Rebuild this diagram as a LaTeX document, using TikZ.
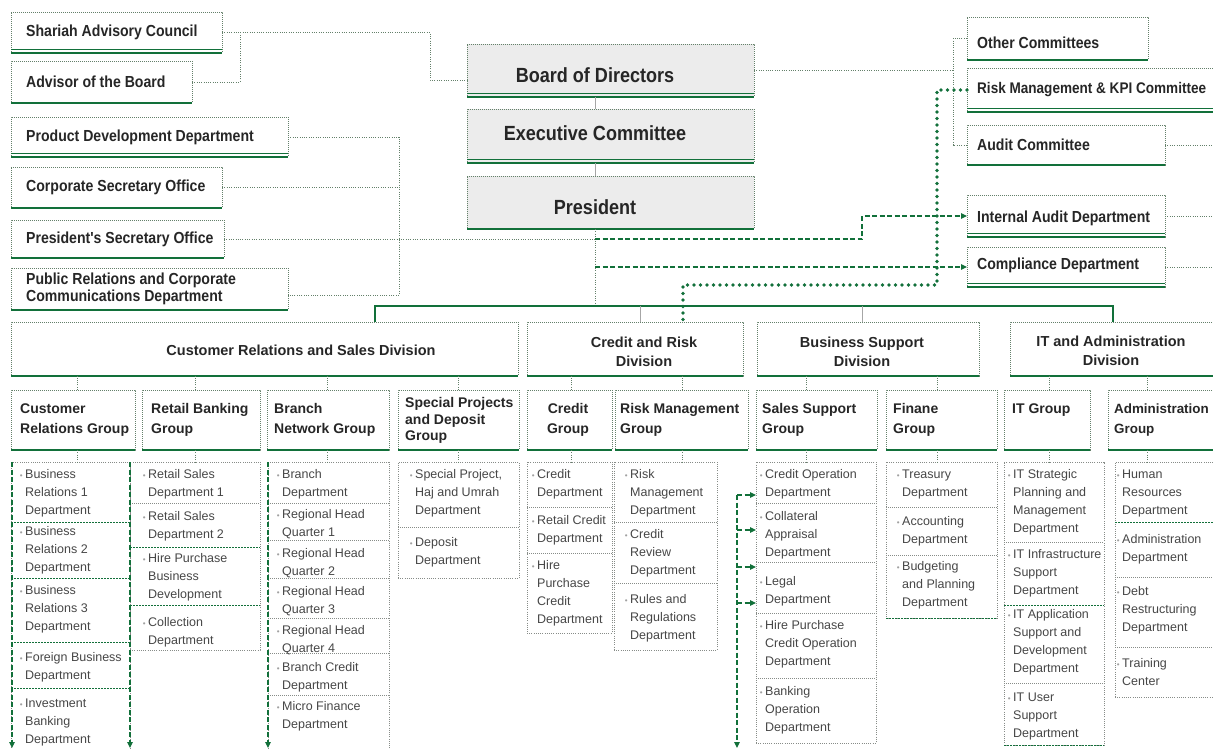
\documentclass[tikz,border=0pt]{standalone}
\usepackage{fontspec}
\setmainfont{Liberation Sans}
\newfontfamily\hfont{Liberation Sans}[FakeStretch=0.88]
\usetikzlibrary{arrows.meta,calc}
\definecolor{g}{RGB}{18,112,58}
\definecolor{bord}{RGB}{100,128,106}
\definecolor{boxfill}{RGB}{236,236,236}
\definecolor{htext}{RGB}{38,38,38}
\definecolor{dtext}{RGB}{70,70,70}
\definecolor{bgray}{RGB}{160,160,160}
\definecolor{sepc}{RGB}{135,140,136}
\newcommand{\bu}{\llap{\textcolor{bgray}{\fontsize{8}{8}\selectfont\textbullet}\hspace{2.5pt}}}
\begin{document}
\begin{tikzpicture}[x=1pt,y=-1pt,
  box/.style={draw=bord, dash pattern=on 0.8pt off 1.2pt, line width=0.7pt, rectangle, inner sep=0pt, outer sep=0pt, anchor=north west},
  cbox/.style={box, fill=boxfill},
  colbox/.style={draw=sepc, dash pattern=on 1pt off 1.2pt, line width=0.6pt, rectangle, inner sep=0pt, outer sep=0pt, anchor=north west},
  ht/.style={anchor=west, inner sep=0pt, text=htext, align=left, font=\hfont\bfseries\fontsize{16}{17}\selectfont},
  ct/.style={inner sep=0pt, text=htext, font=\hfont\bfseries\fontsize{20.5}{22}\selectfont},
  dvt/.style={inner sep=0pt, text=htext, align=center, font=\bfseries\fontsize{14.5}{19}\selectfont},
  gt/.style={anchor=west, inner sep=0pt, text=htext, align=left, font=\bfseries\fontsize{14}{20}\selectfont},
  dt/.style={anchor=west, inner sep=0pt, text=dtext, align=left, font=\fontsize{12.5}{18}\selectfont},
  conn/.style={draw=bord, line width=0.7pt, dash pattern=on 1pt off 1.3pt},
  gthick/.style={draw=g, line width=2.2pt},
  gthin/.style={draw=g, line width=0.8pt},
  gline/.style={draw=g, line width=1.5pt},
  grayline/.style={draw=gray!70, line width=0.9pt},
  gdash/.style={draw=g, line width=1.1pt, dash pattern=on 5pt off 2.5pt},
  arrtip/.style={-{Triangle[length=6pt,width=5.5pt]}},
  tdot/.style={draw=g, line width=3.6pt, dash pattern=on 0pt off 6.5pt, line cap=round},
  sepg/.style={draw=g, line width=0.9pt, dash pattern=on 2pt off 1pt},
  sepl/.style={draw=sepc, line width=0.6pt, dash pattern=on 1pt off 1pt}
]
\useasboundingbox (0,0) rectangle (1213,749);

% ---------- top-left boxes
\node[box, minimum width=211, minimum height=41] (sac) at (11,12) {};
\node[box, minimum width=181, minimum height=42] (adv) at (11,61) {};
\node[box, minimum width=277, minimum height=40] (pdd) at (11,117) {};
\node[box, minimum width=211, minimum height=41] (cso) at (11,167) {};
\node[box, minimum width=213, minimum height=38] (pso) at (11,220) {};
\node[box, minimum width=277, minimum height=42] (prc) at (11,268) {};
\node[ht] (t-sac) at ([xshift=15pt]sac.west) {Shariah Advisory Council};
\node[ht] (t-adv) at ([xshift=15pt]adv.west) {Advisor of the Board};
\node[ht] (t-pdd) at ([xshift=15pt]pdd.west) {Product Development Department};
\node[ht] (t-cso) at ([xshift=15pt]cso.west) {Corporate Secretary Office};
\node[ht] (t-pso) at ([xshift=15pt]pso.west) {President's Secretary Office};
\node[ht] (t-prc) at ([xshift=15pt]prc.west) {Public Relations and Corporate\\Communications Department};

% ---------- centre boxes
\node[cbox, minimum width=287, minimum height=53] (bod) at (467,44) {};
\node[cbox, minimum width=287, minimum height=54] (exc) at (467,109) {};
\node[cbox, minimum width=287, minimum height=53] (pres) at (467,176) {};
\node[ct] (t-bod) at ([xshift=-15.5pt,yshift=-5pt]bod.center) {Board of Directors};
\node[ct] (t-exc) at ([xshift=-15.5pt,yshift=3pt]exc.center) {Executive Committee};
\node[ct] (t-pres) at ([xshift=-15.5pt,yshift=-4.5pt]pres.center) {President};

% ---------- right boxes
\node[box, minimum width=181, minimum height=43] (oc) at (967,17) {};
\node[box, minimum width=250, minimum height=44] (rmk) at (967,68) {};
\node[box, minimum width=198, minimum height=40] (ac) at (967,125) {};
\node[box, minimum width=198, minimum height=42] (iad) at (967,195) {};
\node[box, minimum width=198, minimum height=40] (cd) at (967,247) {};
\node[ht] (t-oc) at ([xshift=10pt,yshift=-4pt]oc.west) {Other Committees};
\node[ht, font=\hfont\bfseries\fontsize{15.4}{17}\selectfont] (t-rmk) at ([xshift=10pt]rmk.west) {Risk Management \& KPI Committee};
\node[ht] (t-ac) at ([xshift=10pt]ac.west) {Audit Committee};
\node[ht] (t-iad) at ([xshift=10pt,yshift=-2pt]iad.west) {Internal Audit Department};
\node[ht] (t-cd) at ([xshift=10pt,yshift=2pt]cd.west) {Compliance Department};

% ---------- divisions
\node[box, minimum width=507, minimum height=54] (dcrs) at (11,322) {};
\node[box, minimum width=216, minimum height=54] (dcr) at (527,322) {};
\node[box, minimum width=222, minimum height=54] (dbs) at (757,322) {};
\node[box, minimum width=210, minimum height=54] (dit) at (1010,322) {};
\node[dvt] (t-dcrs) at (301,350) {Customer Relations and Sales Division};
\node[dvt] (t-dcr) at (644,352) {Credit and Risk\\Division};
\node[dvt] (t-dbs) at (862,352) {Business Support\\Division};
\node[dvt] (t-dit) at (1111,351) {IT and Administration\\Division};

% ---------- groups
\node[box, minimum width=124, minimum height=60] (gcr) at (11,390) {};
\node[box, minimum width=118, minimum height=60] (grb) at (142,390) {};
\node[box, minimum width=122, minimum height=60] (gbn) at (267,390) {};
\node[box, minimum width=121, minimum height=60] (gsp) at (398,390) {};
\node[box, minimum width=85, minimum height=60] (gcg) at (527,390) {};
\node[box, minimum width=133, minimum height=60] (grm) at (615,390) {};
\node[box, minimum width=121, minimum height=60] (gss) at (756,390) {};
\node[box, minimum width=111, minimum height=60] (gfg) at (886,390) {};
\node[box, minimum width=86, minimum height=60] (git) at (1004,390) {};
\node[box, minimum width=110, minimum height=60] (gad) at (1108,390) {};
\node[gt] (t-gcr) at (20,420) {Customer\\Relations Group};
\node[gt] (t-grb) at (151,420) {Retail Banking\\Group};
\node[gt] (t-gbn) at (274,420) {Branch\\Network Group};
\node[gt, font=\bfseries\fontsize{14}{16.5}\selectfont] (t-gsp) at (405,420.5) {Special Projects\\and Deposit\\Group};
\node[gt, anchor=center, align=center] (t-gcg) at (568,420) {Credit\\Group};
\node[gt] (t-grm) at (620,420) {Risk Management\\Group};
\node[gt] (t-gss) at (762,420) {Sales Support\\Group};
\node[gt] (t-gfg) at (893,420) {Finane\\Group};
\node[gt] (t-git) at (1012,410) {IT Group};
\node[gt, font=\bfseries\fontsize{13.4}{20}\selectfont] (t-gad) at (1114,420) {Administration\\Group};

% ---------- department columns
\node[colbox, minimum width=119, minimum height=293] (c1) at (11,462) {};
\node[colbox, minimum width=130, minimum height=188] (c2) at (130,462) {};
\node[colbox, minimum width=121, minimum height=293] (c3) at (268,462) {};
\node[colbox, minimum width=121, minimum height=116] (c4) at (398,462) {};
\node[colbox, minimum width=85, minimum height=171] (c5) at (527,462) {};
\node[colbox, minimum width=103, minimum height=188] (c6) at (614,462) {};
\node[colbox, minimum width=120, minimum height=281] (c7) at (756,462) {};
\node[colbox, minimum width=111, minimum height=156] (c8) at (886,462) {};
\node[colbox, minimum width=100, minimum height=283] (c9) at (1004,462) {};
\node[colbox, minimum width=100, minimum height=235] (c10) at (1115,462) {};

% separators
\foreach \y in {522,578,642,688} \draw[sepg] (11,\y) -- (130,\y);
\draw[sepl] (130,503) -- (260,503);
\foreach \y in {547,605} \draw[sepg] (130,\y) -- (260,\y);
\foreach \y in {503,540,578,618,653,695} \draw[sepl] (268,\y) -- (389,\y);
\draw[sepl] (398,527) -- (519,527);
\foreach \y in {507,553} \draw[sepl] (527,\y) -- (612,\y);
\foreach \y in {522,583} \draw[sepl] (614,\y) -- (717,\y);
\foreach \y in {503,562,613,678} \draw[sepl] (756,\y) -- (876,\y);
\foreach \y in {507,555} \draw[sepl] (886,\y) -- (997,\y);
\draw[sepg] (886,618) -- (997,618);
\foreach \y in {542,683} \draw[sepl] (1004,\y) -- (1104,\y);
\foreach \y in {605,745} \draw[sepg] (1004,\y) -- (1104,\y);
\draw[sepg] (1115,522) -- (1215,522);
\foreach \y in {577,647} \draw[sepl] (1115,\y) -- (1215,\y);

% department texts
\node[dt] (d1a) at (25,493.5) {\bu Business\\Relations 1\\Department};
\node[dt] (d1b) at (25,550) {\bu Business\\Relations 2\\Department};
\node[dt] (d1c) at (25,609) {\bu Business\\Relations 3\\Department};
\node[dt] (d1d) at (25,667.5) {\bu Foreign Business\\Department};
\node[dt] (d1e) at (25,722) {\bu Investment\\Banking\\Department};

\node[dt] (d2a) at (148,484) {\bu Retail Sales\\Department 1};
\node[dt] (d2b) at (148,526.5) {\bu Retail Sales\\Department 2};
\node[dt] (d2c) at (148,577) {\bu Hire Purchase\\Business\\Development};
\node[dt] (d2d) at (148,632) {\bu Collection\\Department};

\node[dt] (d3a) at (282,484.5) {\bu Branch\\Department};
\node[dt] (d3b) at (282,524) {\bu Regional Head\\Quarter 1};
\node[dt] (d3c) at (282,563) {\bu Regional Head\\Quarter 2};
\node[dt] (d3d) at (282,601.5) {\bu Regional Head\\Quarter 3};
\node[dt] (d3e) at (282,640) {\bu Regional Head\\Quarter 4};
\node[dt] (d3f) at (282,677.5) {\bu Branch Credit\\Department};
\node[dt] (d3g) at (282,716.5) {\bu Micro Finance\\Department};

\node[dt] (d4a) at (415,493.5) {\bu Special Project,\\Haj and Umrah\\Department};
\node[dt] (d4b) at (415,552) {\bu Deposit\\Department};

\node[dt] (d5a) at (537,484.5) {\bu Credit\\Department};
\node[dt] (d5b) at (537,530.5) {\bu Retail Credit\\Department};
\node[dt] (d5c) at (537,593) {\bu Hire\\Purchase\\Credit\\Department};

\node[dt] (d6a) at (630,493.5) {\bu Risk\\Management\\Department};
\node[dt] (d6b) at (630,553) {\bu Credit\\Review\\Department};
\node[dt] (d6c) at (630,618) {\bu Rules and\\Regulations\\Department};

\node[dt] (d7a) at (765,484.5) {\bu Credit Operation\\Department};
\node[dt] (d7b) at (765,535) {\bu Collateral\\Appraisal\\Department};
\node[dt] (d7c) at (765,591) {\bu Legal\\Department};
\node[dt] (d7d) at (765,644) {\bu Hire Purchase\\Credit Operation\\Department};
\node[dt] (d7e) at (765,710) {\bu Banking\\Operation\\Department};

\node[dt] (d8a) at (902,484) {\bu Treasury\\Department};
\node[dt] (d8b) at (902,531) {\bu Accounting\\Department};
\node[dt] (d8c) at (902,585.5) {\bu Budgeting\\and Planning\\Department};

\node[dt] (d9a) at (1013,502.5) {\bu IT Strategic\\Planning and\\Management\\Department};
\node[dt] (d9b) at (1013,573.5) {\bu IT Infrastructure\\Support\\Department};
\node[dt] (d9c) at (1013,642.5) {\bu IT Application\\Support and\\Development\\Department};
\node[dt] (d9d) at (1013,716.5) {\bu IT User\\Support\\Department};

\node[dt] (d10a) at (1122,493.5) {\bu Human\\Resources\\Department};
\node[dt] (d10b) at (1122,549) {\bu Administration\\Department};
\node[dt] (d10c) at (1122,610) {\bu Debt\\Restructuring\\Department};
\node[dt] (d10d) at (1122,672.5) {\bu Training\\Center};

% ---------- bottom lines of boxes
\foreach \n in {sac,pdd,bod,exc,rmk,iad,cd}
  \draw[gthin] ([yshift=3.5pt]\n.south west) -- ([yshift=3.5pt]\n.south east);
\foreach \n in {sac,adv,pdd,cso,pso,prc,bod,exc,pres,oc,rmk,ac,iad,cd,dcrs,dcr,dbs,dit,gcr,grb,gbn,gsp,gcg,grm,gss,gfg,git,gad}
  \draw[gthick] (\n.south west) -- (\n.south east);

% ---------- connectors, left side
\coordinate (jadv) at ([xshift=18pt]sac.east);
\draw[conn] (sac.east) -- ++(208,0) |- ([yshift=-9.5pt]bod.west);
\draw[conn] (adv.east) -| (jadv);
\coordinate (vt) at ([xshift=111pt]pdd.east);
\coordinate (prcE) at ([yshift=-6pt]prc.east);
\draw[conn] (pdd.east) -- (vt) -- (vt |- prcE) -- (prcE);
\draw[conn] (cso.east) -- (cso.east -| vt);
\coordinate (pv) at ([xshift=-15.5pt]pres.south);
\draw[conn] (pso.east) -- (pso.east -| pv);

% centre column
\draw[grayline] ([xshift=-15.5pt]bod.south) -- ([xshift=-15.5pt]exc.north);
\draw[grayline] ([xshift=-15.5pt]exc.south) -- ([xshift=-15.5pt]pres.north);

% right side
\coordinate (jr) at ([xshift=-14pt]oc.west);
\draw[conn] (bod.east) -- (bod.east -| jr);
\draw[conn] (oc.west) -- (jr) |- (ac.west);
\coordinate (edgeR) at (1213,0);
\foreach \n in {ac,iad,cd} \draw[conn] (\n.east) -- (\n.east -| edgeR);

% division bus
\coordinate (dL) at (375,306);
\coordinate (dR) at (1113,306);
\draw[conn] (pv) -- (pv |- dL);
\draw[gline] (dcrs.north -| dL) -- (dL) -- (dR) -- (dR |- dit.north);
\draw[grayline] ([xshift=5pt]dcr.north) -- ([xshift=5pt]dcr.north |- dL);
\draw[grayline] ([xshift=-6pt]dbs.north) -- ([xshift=-6pt]dbs.north |- dL);

% green dashed arrows from President
\coordinate (pj) at (pv |- pso.east);
\draw[gdash, arrtip] (pj) -- ++(267,0) |- (iad.west);
\draw[gdash, arrtip] (pv |- cd.west) -- (cd.west);

% heavy dotted line from Risk Management & KPI Committee
\coordinate (tdc) at (937,285);
\coordinate (tdd) at ([xshift=48pt]dcr.north);
\draw[tdot] (rmk.west) -| (tdc) -| (tdd);

% stubs division -> group -> departments
\foreach \gr/\dv/\cl/\s in {gcr/dcrs/c1/4, grb/dcrs/c2/-6, gbn/dcrs/c3/-1, gsp/dcrs/c4/0, gcg/dcr/c5/2, grm/dcr/c6/1, gss/dbs/c7/-10, gfg/dbs/c8/-4, git/dit/c9/2, gad/dit/c10/-16} {
  \draw[conn] ([xshift=\s pt]\gr.north) -- ([xshift=\s pt]\gr.north |- \dv.south);
  \draw[conn] ([xshift=\s pt]\gr.south) -- ([xshift=\s pt]\gr.south |- \cl.north);
}

% green arrows at the bottom
\coordinate (bot) at (0,748);
\draw[gdash, arrtip] ([xshift=1pt]c1.north west) -- ([xshift=1pt]c1.north west |- bot);
\draw[gdash, arrtip] (c2.north west) -- (c2.north west |- bot);
\draw[gdash, arrtip] (c3.north west) -- (c3.north west |- bot);
\coordinate (sa) at (737,495);
\draw[gdash, arrtip] (sa) -- (sa |- bot);
\foreach \i/\y in {1/495,2/530,3/567,4/603} {
  \coordinate (s\i) at (737,\y);
  \draw[gdash, arrtip] (s\i) -- (s\i -| c7.west);
}
\end{tikzpicture}
\end{document}
